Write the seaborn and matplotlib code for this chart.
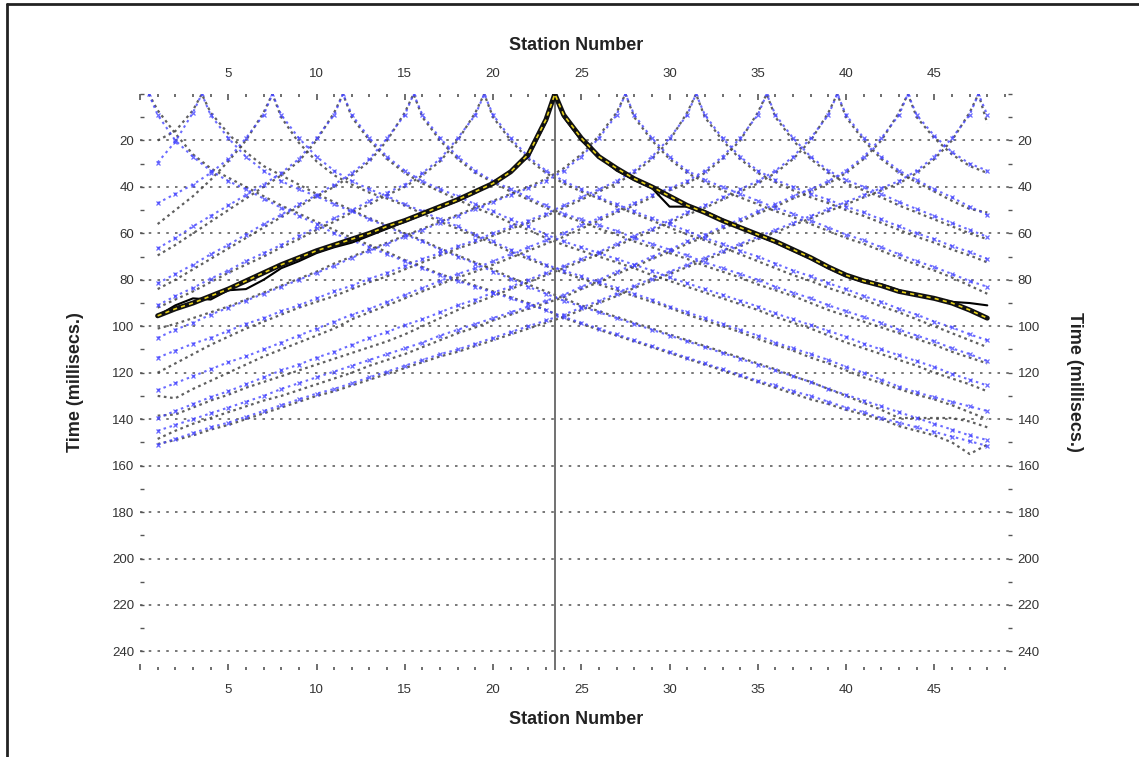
import matplotlib
matplotlib.use("Agg")
import matplotlib.pyplot as plt
from matplotlib.ticker import FixedLocator, MultipleLocator
from matplotlib.lines import Line2D
import seaborn as sns
import pandas as pd

# ---------------- data ----------------
stations = list(range(1, 49))
shots = [0.5, 3.5, 7.5, 11.5, 15.5, 19.5, 23.5, 27.5, 31.5, 35.5, 39.5, 43.5, 47.5]
highlight_shot = 23.5

calc_00 = [9, 20, 27, 33, 37.5, 41, 45, 49, 52.5, 56, 60, 63, 66, 69, 72, 75, 78, 80.5, 83, 85.5, 88, 90.5, 93, 96,
           98.5, 101, 103.5, 106, 108.5, 111, 113.5, 116, 118.5, 121, 123.5, 125.5, 128, 130, 132.5, 135, 137, 139.5,
           141.5, 143.5, 145.5, 147.5, 149.5, 151.5]
obs_00 = [7, 17, 26, 32, 36, 40, 44, 48, 51.5, 55, 58.5, 62, 65, 68, 71.5, 74.5, 77.5, 80, 82.5, 85, 87.5, 90, 93, 96.5,
          99, 101.5, 104, 106.5, 109, 111.5, 114, 116.5, 119, 121.5, 124, 126.5, 129, 131.5, 133.5, 136, 138, 140,
          143, 145, 147, 150, 155, 151]

calc_03 = [29.5, 20.5, 8, 9, 19, 27, 33, 37.5, 41, 44, 47.5, 50.5, 54, 57, 60.5, 63.5, 67, 70, 73, 76.5, 79.5, 83, 86, 89,
           91.5, 94, 96.5, 99, 101.5, 104, 106.5, 109, 111.5, 114, 116.5, 119, 121.5, 124, 127, 129.5, 132, 134.5, 137,
           139.5, 142, 144.5, 147, 149]
obs_03 = [20, 16, 7, 8, 17, 25, 31, 35, 39, 43, 46.5, 50, 53.5, 56.5, 60, 63, 66.5, 69.5, 72.5, 75.5, 79, 82, 85, 88,
          91, 93.5, 96, 98.5, 101, 103.5, 106, 108.5, 111, 113.5, 116, 118.5, 121.5, 124, 127, 130, 133, 136, 139.5,
          139.5, 139.5, 139.5, 141, 143.5]

calc_07 = [47, 43, 39, 34, 28, 19, 9, 9, 19, 27, 33, 37.5, 41, 44, 47.5, 50.5, 54, 57, 60.5, 63.5, 67, 70, 73.5, 76,
           78.5, 81, 83.5, 86, 88.5, 91.5, 94, 96.5, 99, 101.5, 104, 107, 109.5, 112, 114.5, 117.5, 120, 123, 126,
           128.5, 130.5, 132.5, 134.5, 136.5]
obs_07 = [56, 50, 44, 37, 29, 20, 8, 10, 21, 29, 35, 39, 42.5, 45, 48, 51.5, 55, 58, 61, 64.5, 68, 71, 74, 77, 79.5, 82,
          84.5, 87, 89.5, 92, 95, 97.5, 100, 102.5, 105.5, 108, 110.5, 113.5, 116, 119, 122, 124.5, 127, 129.5, 131.5,
          134, 137, 140]

calc_11 = [66.5, 62, 57, 52.5, 48, 43.5, 39, 34, 28, 19, 9, 9, 19, 27, 33, 37.5, 41, 44, 47.5, 50.5, 54, 57, 60.5, 63.5,
           66, 68.5, 71, 73.5, 76, 79, 81.5, 84, 86.5, 89, 91.5, 94.5, 97, 99.5, 102, 104.5, 107.5, 110, 112.5, 115,
           117.5, 120.5, 123, 125.5]
obs_11 = [69.5, 65, 60, 55, 50, 45, 40, 35, 29, 20, 8, 10, 20, 28, 34, 38.5, 42, 45.5, 49, 52, 55.5, 58.5, 62, 65,
          67.5, 70, 72.5, 75, 78, 80.5, 83, 85.5, 88, 90.5, 93, 96, 98.5, 101, 104, 107, 109.5, 112, 114.5, 117, 120,
          122.5, 125, 128]

calc_15 = [81.5, 77.5, 73.5, 69, 65, 60.5, 56, 52, 47.5, 43.5, 39, 34, 28, 19, 9, 9, 19, 27, 33, 37.5, 41, 44.5, 48,
           51.5, 54, 56.5, 59, 62, 64.5, 67, 69.5, 72.5, 75, 77.5, 80, 83, 85.5, 88, 91, 93.5, 96, 98.5, 101.5, 104,
           106.5, 109.5, 112, 115]
obs_15 = [84, 80, 75.5, 71, 66.5, 62, 57.5, 53, 48.5, 44, 40, 35, 29, 20, 8, 10, 20, 28, 34, 38, 42, 45.5, 49, 52.5,
          55, 58, 60.5, 63.5, 66, 68.5, 71, 74, 76.5, 79, 82, 84.5, 87, 90, 93, 95.5, 98, 100.5, 103, 105.5, 108, 111,
          113.5, 116]

calc_19 = [91, 87, 83.5, 79.5, 76, 72, 68.5, 65, 61, 57.5, 53.5, 50, 46, 42.5, 39, 34, 28, 19, 9, 9, 19, 27, 33, 37.5,
           41, 44.5, 47.5, 50.5, 53.5, 56, 59, 62, 64.5, 67.5, 70, 73, 76, 78.5, 81.5, 84, 87, 89.5, 92.5, 95, 98,
           100.5, 103.5, 106]
obs_19 = [92, 88.5, 85, 81, 77, 73.5, 70, 66, 62.5, 58.5, 55, 51, 47.5, 43.5, 40, 35, 29, 20, 8, 10, 20, 28, 34, 38.5,
          42, 45, 48.5, 51.5, 54.5, 57.5, 60.5, 63, 66, 69, 72, 75, 78, 80.5, 83.5, 86, 88.5, 91.5, 94, 97, 100, 103,
          106, 109]

calc_23 = [95.5, 92.5, 90, 87, 84, 80.5, 77, 73.5, 70.5, 67.5, 65, 62.5, 60, 57, 54.5, 51.5, 48.5, 45.5, 42, 38.5,
           33.5, 26, 11, 9, 19, 27, 32, 36.5, 40, 44, 48, 51, 54.5, 57.5, 60.5, 63.5, 67, 70.5, 74.5, 78, 80.5, 82.5,
           85, 86.5, 88, 90, 93, 96.5]
obs_23 = [95.5, 91, 88, 88.5, 84.5, 84, 80, 75, 72, 68.5, 66, 64, 61, 58, 55, 52, 49, 46, 42.5, 38.5, 33, 27, 12, 10,
          20, 27, 33, 37, 40.5, 48.5, 48.5, 50.5, 54, 57.5, 61, 64, 67.5, 71, 75, 78.5, 81, 82, 84.5, 86.5, 88, 89.5,
          90, 91]

calc_27 = [105, 101.5, 98.5, 95, 92, 89, 86, 83, 80, 77, 74, 70.5, 67.5, 64.5, 61.5, 58.5, 55.5, 52.5, 49.5, 46.5,
           43.5, 40.5, 37.5, 33, 27, 19, 9, 9, 19, 27, 33, 37, 40, 43, 46, 49, 51.5, 54.5, 57.5, 60.5, 63, 66, 69, 72,
           74.5, 77.5, 80.5, 83]
obs_27 = [101, 99, 96.5, 94, 91.5, 88.5, 85.5, 82.5, 79.5, 76.5, 73, 70, 67, 64, 61, 58, 55, 52, 49, 46, 43, 40, 36.5,
          32, 26, 18, 8, 10, 20, 28, 34, 38, 41.5, 44.5, 47.5, 50.5, 53, 56, 59, 62, 64.5, 67.5, 70.5, 73.5, 76, 79,
          82.5, 86]

calc_31 = [113.5, 110.5, 107.5, 105, 102, 99, 96.5, 93.5, 91, 88, 85, 82.5, 79.5, 77, 74, 71, 68.5, 65.5, 63, 60, 57,
           54.5, 51.5, 48, 44.5, 41, 37.5, 33, 27, 19, 9, 9, 19, 27, 33, 37, 40, 43, 45.5, 48.5, 51, 54, 57, 60, 62.5,
           65.5, 68, 71]
obs_31 = [120, 116, 112, 108, 104.5, 101, 98, 95, 92, 89.5, 87, 84, 81, 78.5, 75.5, 72.5, 69.5, 66.5, 64, 61, 58,
          55.5, 52.5, 49, 45.5, 42, 38.5, 34, 28, 20, 8, 10, 20, 28, 34, 38, 41.5, 44.5, 47, 50, 52.5, 55.5, 58.5,
          61.5, 64, 67, 69.5, 72.5]

calc_35 = [127.5, 124.5, 121.5, 118.5, 115.5, 113, 110, 107, 104, 101, 98, 95, 92.5, 89.5, 86.5, 83.5, 80.5, 77.5, 75,
           72, 69, 66, 63, 60, 56.5, 53.5, 50, 47, 43.5, 40.5, 37.5, 33, 27, 19, 9, 9, 19, 27, 33, 37, 40, 43, 46.5,
           49.5, 52.5, 55.5, 58.5, 61.5]
obs_35 = [130, 131, 127, 123.5, 120, 116.5, 113, 110, 107, 104, 101, 97, 94, 91, 88, 85, 82, 79, 76.5, 73.5, 70.5,
          67.5, 64.5, 61.5, 58, 54.5, 51, 48, 44.5, 41.5, 38.5, 34, 28, 20, 8, 10, 20, 28, 34, 38.5, 41.5, 44.5, 48,
          51, 54, 57, 60, 62.5]

calc_39 = [139.5, 136.5, 133.5, 130.5, 128, 125, 122, 119, 116.5, 113.5, 111, 108, 105, 102.5, 99.5, 97, 94, 91, 88.5,
           85.5, 83, 80, 77, 74, 71, 68, 64.5, 61, 58, 54.5, 51, 48, 44.5, 41, 37.5, 33, 27, 19, 9, 9, 19, 27, 33, 37,
           41, 44.5, 48.5, 52]
obs_39 = [138.5, 138, 135, 132, 129.5, 126.5, 124, 121.5, 119, 116.5, 114, 111.5, 109, 106.5, 103.5, 100, 96.5, 93,
          90, 87, 84, 81, 78, 75, 72, 69, 65.5, 62, 59, 55.5, 52, 49, 45.5, 42, 38.5, 34, 28, 20, 8, 10, 20, 28, 34,
          38, 42, 46, 49.5, 51]

calc_43 = [145, 142.5, 140, 137.5, 135, 132.5, 130, 127, 124.5, 122, 119.5, 117, 114.5, 112, 109.5, 107, 104, 101.5,
           99, 96.5, 94, 91.5, 89, 86.5, 83, 80, 76.5, 73.5, 70, 67, 63.5, 60.5, 57, 54, 50.5, 47.5, 44, 41, 37.5, 33,
           27, 19, 9, 9, 18, 25, 30, 33]
obs_43 = [148.5, 145, 142, 139.5, 137, 134.5, 132, 130, 127.5, 125, 122.5, 120, 117, 114.5, 112, 109, 106, 103, 100.5,
          97.5, 95, 92.5, 90, 87.5, 84, 81, 77.5, 74.5, 71, 68, 64.5, 61.5, 58, 55, 51.5, 48.5, 45, 42, 38.5, 34, 28,
          20, 8, 10, 19, 26, 31, 34]

calc_47 = [151, 148.5, 146, 143.5, 141.5, 139, 136.5, 134, 131.5, 129, 127, 124.5, 122, 119.5, 117, 114.5, 112, 110,
           107.5, 105, 102.5, 100, 97.5, 95, 92, 89, 86, 82.5, 79.5, 76.5, 73.5, 70.5, 67.5, 64.5, 61.5, 58.5, 55.5,
           52.5, 49.5, 46.5, 43.5, 40.5, 37.5, 33, 27, 19, 9, 9]
obs_47 = [150.7, 149, 147, 144.5, 142.5, 140, 137.5, 135, 132.5, 130, 128, 125.5, 123, 120.5, 118, 115.5, 113, 111,
          108.5, 106, 103.5, 101, 98.5, 96, 93, 90, 87, 83.5, 80.5, 77.5, 74.5, 71.5, 68.5, 65.5, 62.5, 59.5, 56.5,
          53.5, 50.5, 47.5, 44.5, 41.5, 38.5, 34, 28, 20, 8, 12.7]

calc_all = [calc_00, calc_03, calc_07, calc_11, calc_15, calc_19, calc_23, calc_27, calc_31, calc_35, calc_39,
            calc_43, calc_47]
obs_all = [obs_00, obs_03, obs_07, obs_11, obs_15, obs_19, obs_23, obs_27, obs_31, obs_35, obs_39, obs_43, obs_47]

y_major = list(range(20, 241, 20))

# ---------------- style ----------------
sns.set_theme(style="white")
plt.rcParams["font.family"] = ["Liberation Sans", "DejaVu Sans"]

W, H = 1139, 757
fig = plt.figure(figsize=(W / 100, H / 100), dpi=100)
L, R, T, B = 140, 1012, 94, 670
ax = fig.add_axes([L / W, 1 - B / H, (R - L) / W, (B - T) / H])


def curve(shot, times):
    df = pd.DataFrame({"station": stations + [shot], "time": list(times) + [0.0]})
    return df.sort_values("station")


BLUE = "#4646ff"
GREY = "#444444"

for shot, calc, obs in zip(shots, calc_all, obs_all):
    if shot == highlight_shot:
        continue
    sns.lineplot(data=curve(shot, obs), x="station", y="time", ax=ax, estimator=None, sort=True,
                 color=GREY, linestyle=(0, (1.2, 1.6)), linewidth=1.6, alpha=0.85, zorder=3)
    sns.lineplot(data=curve(shot, calc), x="station", y="time", ax=ax, estimator=None, sort=True,
                 color=BLUE, linestyle=(0, (1.2, 1.8)), linewidth=1.5, alpha=0.8, marker="x",
                 markersize=3, markeredgewidth=0.9, markeredgecolor=BLUE, zorder=4)

# highlighted shot
i = shots.index(highlight_shot)
sns.lineplot(data=curve(highlight_shot, obs_all[i]), x="station", y="time", ax=ax, estimator=None, sort=True,
             color="black", linewidth=1.5, zorder=6)
sns.lineplot(data=curve(highlight_shot, calc_all[i]), x="station", y="time", ax=ax, estimator=None, sort=True,
             color="#111111", linewidth=3.6, zorder=7)
sns.lineplot(data=curve(highlight_shot, calc_all[i]), x="station", y="time", ax=ax, estimator=None, sort=True,
             color="#e8d21a", linewidth=1.2, linestyle=(0, (2.5, 2.5)), zorder=8)

ax.axvline(highlight_shot, color="#666666", linewidth=1.3, zorder=5)

# axes
ax.set_xlim(0, 49.4)
ax.set_ylim(248, 0)
for sp in ax.spines.values():
    sp.set_visible(False)

ax.xaxis.set_major_locator(FixedLocator(list(range(0, 50, 5))))
ax.set_xticklabels([""] + [str(v) for v in range(5, 50, 5)])
ax.xaxis.set_minor_locator(MultipleLocator(1))
ax.yaxis.set_major_locator(FixedLocator(y_major))
ax.set_yticklabels([str(v) for v in y_major])
ax.yaxis.set_minor_locator(MultipleLocator(10))

ax.tick_params(axis="both", which="both", top=True, bottom=True, left=True, right=True,
               labeltop=True, labelbottom=True, labelleft=True, labelright=True,
               direction="in", colors="#555555", labelcolor="#333333", labelsize=9.5)
ax.tick_params(axis="x", which="major", length=4, width=1.2, pad=10)
ax.tick_params(axis="x", which="minor", length=2, width=1.2)
ax.tick_params(axis="y", which="major", length=3, width=1.0, pad=4)
ax.tick_params(axis="y", which="minor", length=3, width=1.0)

ax.grid(axis="y", which="major", color="#777777", linestyle=(0, (1.3, 3.2)), linewidth=1.4, zorder=1)
ax.grid(axis="x", visible=False)
ax.set_xlabel("")
ax.set_ylabel("")

# titles / labels
fig.text(576 / W, 1 - 45 / H, "Station Number", ha="center", va="center", fontsize=13, fontweight="bold",
         color="#222222")
fig.text(576 / W, 1 - 720 / H, "Station Number", ha="center", va="center", fontsize=13, fontweight="bold",
         color="#222222")
fig.text(76 / W, 1 - 382 / H, "Time (millisecs.)", ha="center", va="center", rotation=90, fontsize=13,
         fontweight="bold", color="#222222")
fig.text(1075 / W, 1 - 382 / H, "Time (millisecs.)", ha="center", va="center", rotation=270, fontsize=13,
         fontweight="bold", color="#222222")

# screenshot frame (top and left edges)
fig.add_artist(Line2D([7 / W, 7 / W], [0, 1 - 4 / H], transform=fig.transFigure, color="#222222", linewidth=2))
fig.add_artist(Line2D([7 / W, 1], [1 - 4 / H, 1 - 4 / H], transform=fig.transFigure, color="#222222", linewidth=2))

fig.savefig("out.png", dpi=100, facecolor="white")
